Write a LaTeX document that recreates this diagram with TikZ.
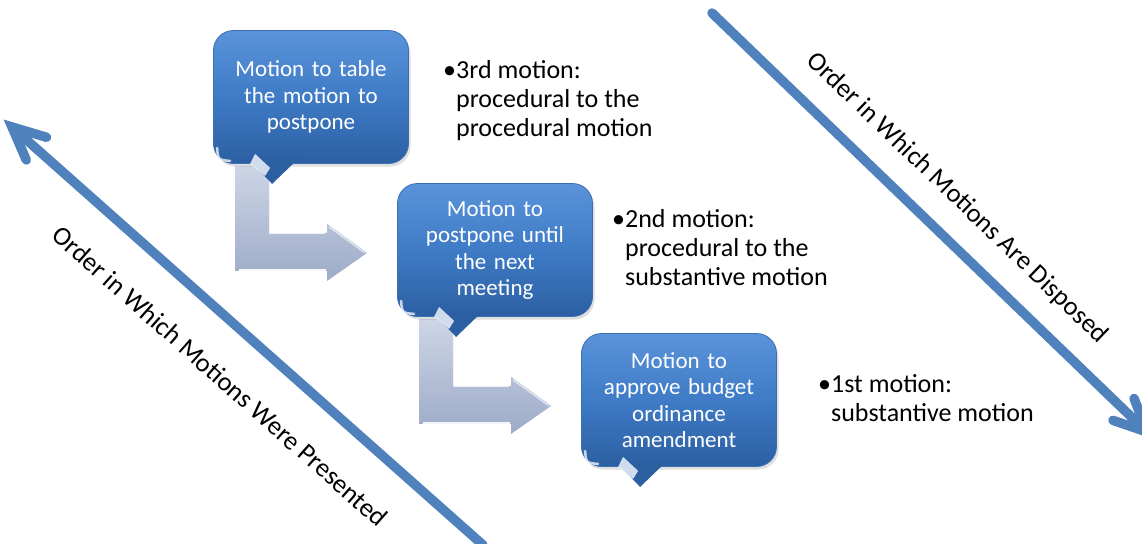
\documentclass[tikz,border=0pt]{standalone}
\usepackage{fontspec}
\setmainfont{Carlito}
\usetikzlibrary{calc,shadows}
\definecolor{boxtop}{HTML}{5A93D9}
\definecolor{boxmid}{HTML}{3F7BC6}
\definecolor{boxbot}{HTML}{2C5FA2}
\definecolor{boxedge}{HTML}{3A6FB2}
\definecolor{axisblue}{HTML}{4F81BD}
\definecolor{bentlight}{HTML}{CDD5E6}
\definecolor{bentdark}{HTML}{9DABC8}
\definecolor{bevel}{HTML}{E2EAF6}
\pgfdeclarelayer{behind}
\pgfsetlayers{behind,main}

% tail and glints of a speech-bubble box, placed by the box's name
\newcommand\bubbletail[1]{%
  \fill[boxbot] ($(#1.south west)+(35,-5)$) -- ($(#1.south west)+(85,-5)$)
    -- ($(#1.south west)+(59,20)$) -- cycle;
  \fill[bevel, opacity=.9] ($(#1.south west)+(37,0)$) -- ($(#1.south west)+(42,-10)$)
    -- ($(#1.south west)+(57,4)$) -- ($(#1.south west)+(52,12)$) -- cycle;
  \draw[white, opacity=.75, line width=2.5, line cap=round]
    ($(#1.south west)+(4,-16)$) .. controls ($(#1.south west)+(5,-4)$) .. ($(#1.south west)+(17,-3)$);
}

\begin{document}
\begin{tikzpicture}[x=1pt, y=-1pt,
  motionbox/.style={rounded corners=20, minimum width=195, minimum height=133,
    draw=boxedge, line width=0.8, top color=boxtop, bottom color=boxbot, middle color=boxmid,
    drop shadow={opacity=0.25, shadow xshift=2pt, shadow yshift=-3pt},
    text=white, align=center, text width=186, inner sep=0,
    font=\fontsize{23}{26.5}\selectfont},
  sidetext/.style={anchor=west, inner sep=0, text=black,
    font=\fontsize{26}{28.8}\selectfont},
  axislabel/.style={inner sep=0, text=black, font=\fontsize{26.5}{30}\selectfont},
  axisline/.style={draw=axisblue, line width=9.5, line cap=round},
  pics/bentarrow/.style={code={
    \path[top color=bentlight, bottom color=bentdark]
      (0,0) -- (35,0) -- (35,67) -- (92,67) -- (92,58) -- (132,87)
      -- (92,115) -- (92,105) -- (0,105) -- cycle;
    \draw[white, opacity=.8, line width=2] (35,2) -- (35,67) -- (90,67);
    \draw[white, opacity=.9, line width=2] (4,104) -- (91,104);
    \draw[white, opacity=.6, line width=1.5] (94,61) -- (130,87);
  }}]
\useasboundingbox (0,0) rectangle (1142,543);

% the three motions
\node[motionbox] (b1) at (311,97) {Motion to table\\the motion to\\postpone};
\node[motionbox] (b2) at (495,250) {Motion to\\postpone until\\the next\\meeting};
\node[motionbox] (b3) at (679,400) {Motion to\\approve budget\\ordinance\\amendment};
\bubbletail{b1}
\bubbletail{b2}
\bubbletail{b3}

% bent arrows leading from one motion to the next
\begin{pgfonlayer}{behind}
  \pic at ($(b1.south west)+(22,2)$) {bentarrow};
  \pic at ($(b2.south west)+(22,2)$) {bentarrow};
\end{pgfonlayer}

% notes beside each motion
\node[sidetext] (t1) at (443,101.5) {\begin{tabular}{@{}l@{}l@{}}•&3rd motion:\\&procedural to the\\&procedural motion\end{tabular}};
\node[sidetext] (t2) at (612,251) {\begin{tabular}{@{}l@{}l@{}}•&2nd motion:\\&procedural to the\\&substantive motion\end{tabular}};
\node[sidetext] (t3) at (818,401.5) {\begin{tabular}{@{}l@{}l@{}}•&1st motion:\\&substantive motion\end{tabular}};

% order in which motions were presented
\coordinate (lTail) at (483,545);
\coordinate (lTip) at (12,127);
\draw[axisline] (lTail) -- (lTip);
\draw[axisline, line join=miter] ($(lTip)!36pt!25:(lTail)$) -- (lTip) -- ($(lTip)!36pt!-25:(lTail)$);
\node[axislabel, rotate=-41.6] (lp) at (220,376) {Order in Which Motions Were Presented};

% order in which motions are disposed
\coordinate (rTail) at (712,13);
\coordinate (rTip) at (1147,432);
\draw[axisline] (rTail) -- (rTip);
\draw[axisline, line join=miter] ($(rTip)!36pt!25:(rTail)$) -- (rTip) -- ($(rTip)!36pt!-25:(rTail)$);
\node[axislabel, rotate=-43.9] (rd) at (957,198) {Order in Which Motions Are Disposed};
\end{tikzpicture}
\end{document}
